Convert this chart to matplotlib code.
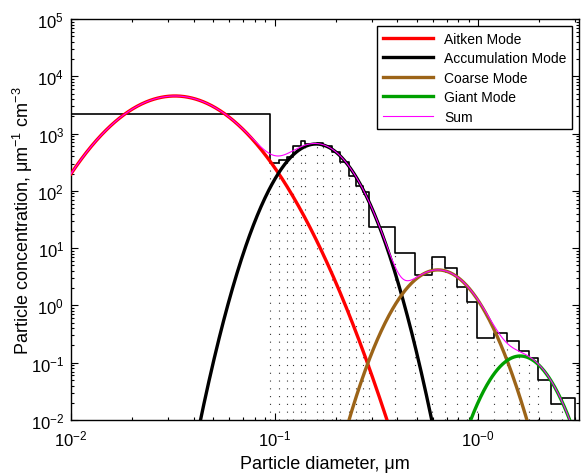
import numpy as np
import matplotlib
matplotlib.use("Agg")
import matplotlib.pyplot as plt

plt.rcParams['font.family'] = ['Liberation Sans', 'DejaVu Sans']
plt.rcParams['mathtext.fontset'] = 'custom'
plt.rcParams['mathtext.rm'] = 'Liberation Sans'
plt.rcParams['mathtext.it'] = 'Liberation Sans:italic'
plt.rcParams['mathtext.bf'] = 'Liberation Sans:bold'
plt.rcParams['mathtext.sf'] = 'Liberation Sans'
plt.rcParams['mathtext.default'] = 'regular'

# ---- measured size distribution (bin edges in um, concentration per bin) ----
bin_edges = [0.0100, 0.0950, 0.1052, 0.1151, 0.1233, 0.1349, 0.1412, 0.1617,
             0.1731, 0.1917, 0.2099, 0.2323, 0.2515, 0.2722, 0.2913, 0.3909,
             0.4901, 0.5942, 0.6884, 0.7884, 0.8830, 0.9888, 1.198, 1.388,
             1.590, 1.781, 1.971, 2.284, 2.587, 2.998]
bin_values = [2198, 307, 346, 383, 608, 743, 658, 686, 608, 477, 319, 182,
              122, 95.7, 23.4, 8.24, 3.41, 7.02, 4.51, 2.10, 1.15, 0.271,
              0.331, 0.240, 0.161, 0.121, 0.0501, 0.0191, 0.0243]

# ---- lognormal mode fits: peak concentration, peak diameter (um), geometric sigma ----
mode_names = ['Aitken Mode', 'Accumulation Mode', 'Coarse Mode', 'Giant Mode']
mode_peak = [4530, 658, 4.17, 0.131]
mode_dpeak = [0.0324, 0.160, 0.635, 1.61]
mode_sigma = [1.60, 1.32, 1.336, 1.28]
mode_colors = ['#ff0000', '#000000', '#9c6418', '#00a000']

x_ticks = [0.01, 0.1, 1.0]
x_ticklabels = ['$10^{-2}$', '$10^{-1}$', '$10^{-0}$']
y_ticks = [1e-2, 1e-1, 1e0, 1e1, 1e2, 1e3, 1e4, 1e5]
y_ticklabels = ['$10^{-2}$', '$10^{-1}$', '$10^{0}$', '$10^{1}$', '$10^{2}$',
                '$10^{3}$', '$10^{4}$', '$10^{5}$']

XMIN, XMAX = 0.01, 3.13
YMIN, YMAX = 1e-2, 1e5

fig = plt.figure(figsize=(5.82, 4.77), dpi=100)
ax = fig.add_axes([71/582, 1-421/477, (579-71)/582, (421-20)/477])
ax.set_xscale('log')
ax.set_yscale('log')

edges = np.array(bin_edges)
vals = np.array(bin_values)

# dotted stipple: vertical dotted lines at each bin's left edge (except first bin)
ax.vlines(edges[1:-1], YMIN, vals[1:], colors='#333333', linewidth=0.8,
          linestyles=[(0, (1.0, 6.0))], zorder=1)

# histogram step outline
sx = np.repeat(edges, 2)[1:-1]
sy = np.repeat(vals, 2)
sx = np.concatenate([sx, [edges[-1]]])
sy = np.concatenate([sy, [YMIN]])
ax.plot(sx, sy, color='black', linewidth=1.2, zorder=2)

# mode curves
d = np.logspace(np.log10(XMIN), np.log10(XMAX), 800)
total = np.zeros_like(d)
for name, p, dp, sg, c in zip(mode_names, mode_peak, mode_dpeak, mode_sigma, mode_colors):
    y = p * np.exp(-(np.log(d) - np.log(dp))**2 / (2 * np.log(sg)**2))
    total += y
    ax.plot(d, y, color=c, linewidth=2.4, label=name, zorder=3)
ax.plot(d, total, color='#ff00ff', linewidth=0.8, label='Sum', zorder=4)

ax.set_xlim(XMIN, XMAX)
ax.set_ylim(YMIN, YMAX)
ax.set_xticks(x_ticks)
ax.set_xticklabels(x_ticklabels)
ax.set_yticks(y_ticks)
ax.set_yticklabels(y_ticklabels)
ax.xaxis.set_minor_locator(matplotlib.ticker.LogLocator(base=10, subs=np.arange(2, 10), numticks=20))
ax.yaxis.set_minor_locator(matplotlib.ticker.LogLocator(base=10, subs=np.arange(2, 10), numticks=20))
ax.xaxis.set_minor_formatter(matplotlib.ticker.NullFormatter())
ax.yaxis.set_minor_formatter(matplotlib.ticker.NullFormatter())
ax.tick_params(which='both', direction='in', top=True, right=True, labelsize=12, width=0.8)
ax.tick_params(which='major', length=5)
ax.tick_params(which='minor', length=2.5)
ax.tick_params(axis='x', which='major', pad=6)
ax.tick_params(axis='y', which='major', pad=5)
for s in ax.spines.values():
    s.set_linewidth(1.0)

ax.set_xlabel('Particle diameter, μm', fontsize=13, labelpad=5)
ax.set_ylabel('Particle concentration, μm$^{-1}$ cm$^{-3}$', fontsize=13, labelpad=-3)

leg = ax.legend(loc='upper right', fontsize=10, frameon=True, fancybox=False,
                edgecolor='black', framealpha=1, handlelength=3.6,
                labelspacing=0.4, borderaxespad=0.5, handletextpad=0.8)
leg.get_frame().set_linewidth(1.0)

fig.savefig('out.png', dpi=100)
